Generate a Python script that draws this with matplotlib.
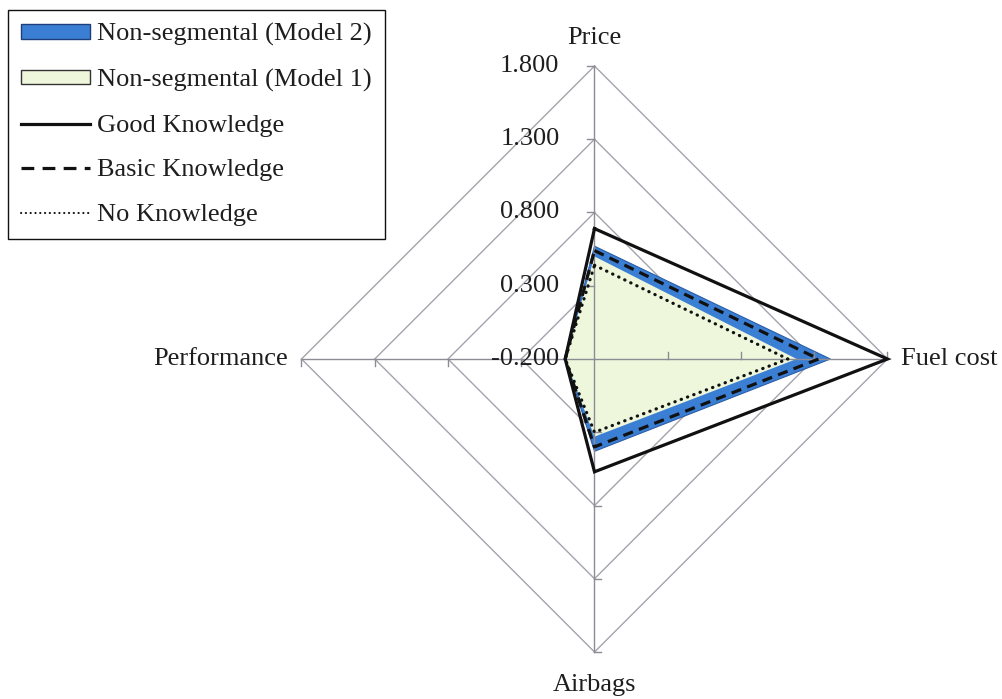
import numpy as np
import matplotlib
matplotlib.use("Agg")
import matplotlib.pyplot as plt
from matplotlib.patches import Patch
from matplotlib.lines import Line2D

# ---- data -------------------------------------------------------------
categories = ["Price", "Fuel cost", "Airbags", "Performance"]
tick_values = [-0.2, 0.3, 0.8, 1.3, 1.8]
tick_labels = ["-0.200", "0.300", "0.800", "1.300", "1.800"]

model2 = [0.57, 1.41, 0.43, 0.00]      # Non-segmental (Model 2)
model1 = [0.50, 1.18, 0.33, 0.00]      # Non-segmental (Model 1)
good_knowledge = [0.69, 1.80, 0.57, 0.00]
basic_knowledge = [0.54, 1.33, 0.40, 0.00]
no_knowledge = [0.44, 1.12, 0.30, 0.00]

# ---- geometry ---------------------------------------------------------
W, H = 1003, 699
CX, CY = 594.5, 359.0      # centre of the radar (pixels from top-left)
SCALE = 146.5              # pixels per value unit
RMIN = tick_values[0]
angles = np.deg2rad([90, 0, -90, 180])   # clockwise from top


def to_xy(values, close=True):
    r = np.asarray(values, dtype=float) - RMIN
    x = r * np.cos(angles)
    y = r * np.sin(angles)
    if close:
        x = np.append(x, x[0])
        y = np.append(y, y[0])
    return x, y


plt.rcParams["font.family"] = ["Liberation Serif", "DejaVu Serif"]
FS = 19
TXT = "#1e1e1e"

fig = plt.figure(figsize=(W / 100, H / 100), dpi=100)
ax = fig.add_axes([0, 0, 1, 1])
ax.set_xlim(-CX / SCALE, (W - CX) / SCALE)
ax.set_ylim(-(H - CY) / SCALE, CY / SCALE)
ax.axis("off")

# rings
ring_color = "#a3a3ad"
for v in tick_values[1:]:
    x, y = to_xy([v] * 4)
    ax.plot(x, y, color=ring_color, lw=1.0, zorder=1)

# series fills
blue = "#3b7fd4"
green = "#eef6dc"
x, y = to_xy(model2)
ax.fill(x, y, facecolor=blue, edgecolor="#2a5ea8", lw=0.8, zorder=2)
x, y = to_xy(model1)
ax.fill(x, y, facecolor=green, edgecolor="none", zorder=2.1)

# spokes and tick marks
spoke_color = "#8c8c94"
rmax = tick_values[-1] - RMIN
tick_len = 7 / SCALE
for a in angles:
    ax.plot([0, rmax * np.cos(a)], [0, rmax * np.sin(a)],
            color=spoke_color, lw=1.0, zorder=3)
    perp = a + np.pi / 2
    for v in tick_values[1:]:
        r = v - RMIN
        px, py = r * np.cos(a), r * np.sin(a)
        ax.plot([px, px + tick_len * np.cos(perp)],
                [py, py + tick_len * np.sin(perp)],
                color=spoke_color, lw=1.0, zorder=3)

# series lines
lw = 2.3
x, y = to_xy(good_knowledge)
ax.plot(x, y, color="#111111", lw=lw, ls="-", zorder=4,
        solid_joinstyle="miter")
x, y = to_xy(basic_knowledge)
ax.plot(x, y, color="#111111", lw=lw, ls=(0, (3.2, 2.0)), zorder=4)
x, y = to_xy(no_knowledge)
ax.plot(x, y, color="#111111", lw=lw, ls=(0, (0.1, 2.0)),
        dash_capstyle="round", zorder=4)

# value labels along the Price axis
for v, lab in zip(tick_values, tick_labels):
    ax.text(-35 / SCALE, (v - RMIN), lab, ha="right", va="center",
            fontsize=FS, color=TXT, zorder=5)

# category labels
ax.text(0, rmax + 28 / SCALE, categories[0], ha="center", va="center",
        fontsize=FS, color=TXT)
ax.text(rmax + 14 / SCALE, 0, categories[1], ha="left", va="center",
        fontsize=FS, color=TXT)
ax.text(0, -rmax - 33 / SCALE, categories[2], ha="center", va="center",
        fontsize=FS, color=TXT)
ax.text(-rmax - 14 / SCALE, 0, categories[3], ha="right", va="center",
        fontsize=FS, color=TXT)

# legend
handles = [
    Patch(facecolor=blue, edgecolor="#1f3f7a", lw=1.0),
    Patch(facecolor=green, edgecolor="#333333", lw=1.0),
    Line2D([], [], color="#111111", lw=lw, ls="-"),
    Line2D([], [], color="#111111", lw=lw, ls=(0, (4.0, 2.6))),
    Line2D([], [], color="#111111", lw=1.5, ls=(0, (0.1, 2.2)),
           dash_capstyle="round"),
]
labels = ["Non-segmental (Model 2)", "Non-segmental (Model 1)",
          "Good Knowledge", "Basic Knowledge", "No Knowledge"]
leg = fig.legend(handles, labels, loc="upper left",
                 bbox_to_anchor=(8 / W, 1 - 10 / H),
                 bbox_transform=fig.transFigure, borderaxespad=0,
                 fontsize=FS, handlelength=2.6, handleheight=0.45,
                 handletextpad=0.28, borderpad=0.5, labelspacing=0.86,
                 frameon=True, fancybox=False, framealpha=1,
                 edgecolor="#111111")
leg.get_frame().set_linewidth(1.0)
for t in leg.get_texts():
    t.set_color(TXT)

fig.savefig("out.png", dpi=100)
